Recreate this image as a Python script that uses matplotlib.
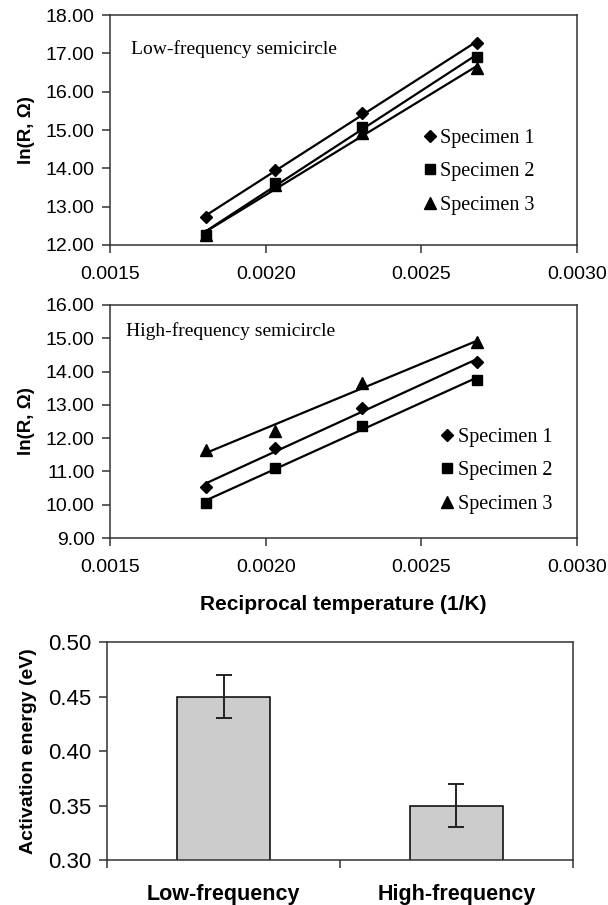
import matplotlib.pyplot as plt
import numpy as np
from matplotlib.ticker import FormatStrFormatter, FixedLocator

# reciprocal temperature, 1/K
inv_temp = [0.00181, 0.00203, 0.00231, 0.00268]

# ln(R) of the low-frequency semicircle
low_spec1 = [12.74, 13.95, 15.45, 17.28]
low_spec2 = [12.27, 13.63, 15.09, 16.91]
low_spec3 = [12.25, 13.56, 14.91, 16.61]

# ln(R) of the high-frequency semicircle
high_spec1 = [10.53, 11.69, 12.91, 14.29]
high_spec2 = [10.06, 11.11, 12.37, 13.75]
high_spec3 = [11.64, 12.22, 13.65, 14.89]

# activation energies
categories = ["Low-frequency", "High-frequency"]
energy = [0.45, 0.35]
energy_err = [0.02, 0.02]

labels = ["Specimen 1", "Specimen 2", "Specimen 3"]
markers = ["D", "s", "^"]
msizes = [6, 7.5, 8]

sans = "Liberation Sans"
serif = "Liberation Serif"


def style_axes(ax, size):
    for sp in ax.spines.values():
        sp.set_linewidth(1.1)
        sp.set_color("#333333")
    ax.tick_params(direction="out", length=6, width=1.1, color="#333333",
                   labelsize=size)
    ax.tick_params(axis="x", pad=9)
    ax.tick_params(axis="y", pad=5)
    for lab in ax.get_xticklabels() + ax.get_yticklabels():
        lab.set_fontfamily(sans)


def arrhenius_panel(ax, series, title, ylim, leg_anchor, title_pos):
    for vals, lab, mk, ms in zip(series, labels, markers, msizes):
        k, b = np.polyfit(inv_temp, vals, 1)
        xs = np.array([inv_temp[0], inv_temp[-1]])
        ax.plot(xs, k * xs + b, color="black", lw=1.6)
        ax.plot(inv_temp, vals, ls="none", marker=mk, ms=ms, color="black",
                label=lab)
    ax.set_xlim(0.0015, 0.0030)
    ax.set_ylim(*ylim)
    ax.set_xticks([0.0015, 0.0020, 0.0025, 0.0030])
    ax.set_yticks(np.arange(ylim[0], ylim[1] + 0.5, 1.0))
    ax.xaxis.set_major_formatter(FormatStrFormatter("%.4f"))
    ax.yaxis.set_major_formatter(FormatStrFormatter("%.2f"))
    ax.set_ylabel("ln(R, \u03a9)", fontfamily=sans, fontweight="bold",
                  fontsize=13.5, labelpad=8)
    ax.text(title_pos[0], title_pos[1], title, transform=ax.transAxes,
            fontfamily=serif, fontsize=14, va="center", ha="left")
    ax.legend(loc="center left", bbox_to_anchor=leg_anchor, frameon=False,
              prop={"family": serif, "size": 14.5}, handlelength=0.5,
              handletextpad=0.25, labelspacing=0.72, borderpad=0,
              borderaxespad=0)
    style_axes(ax, 14)


fig = plt.figure(figsize=(6.08, 9.05), dpi=100)

ax1 = fig.add_axes([0.1809, 0.7293, 0.768, 0.2541])
arrhenius_panel(ax1, [low_spec1, low_spec2, low_spec3],
                "Low-frequency semicircle", (12, 18), (0.675, 0.318),
                (0.045, 0.85))

ax2 = fig.add_axes([0.1809, 0.4055, 0.768, 0.2575])
arrhenius_panel(ax2, [high_spec1, high_spec2, high_spec3],
                "High-frequency semicircle", (9, 16), (0.712, 0.289),
                (0.035, 0.887))
ax2.set_xlabel("Reciprocal temperature (1/K)", fontfamily=sans,
               fontweight="bold", fontsize=15, labelpad=14)

ax3 = fig.add_axes([0.176, 0.0497, 0.7664, 0.2409])
pos = np.arange(len(categories))
ax3.bar(pos, energy, width=0.4, color="#cccccc", edgecolor="black",
        linewidth=1.1)
ax3.errorbar(pos, energy, yerr=energy_err, fmt="none", ecolor="#222222",
             elinewidth=1.4, capsize=5.5, capthick=1.4)
ax3.set_xlim(-0.5, 1.5)
ax3.set_ylim(0.30, 0.50)
ax3.set_yticks(np.arange(0.30, 0.501, 0.05))
ax3.yaxis.set_major_formatter(FormatStrFormatter("%.2f"))
ax3.xaxis.set_major_locator(FixedLocator([-0.5, 0.5, 1.5]))
ax3.xaxis.set_minor_locator(FixedLocator(pos))
ax3.set_xticklabels([], minor=False)
ax3.set_xticklabels(categories, minor=True, fontfamily=sans,
                    fontweight="bold", fontsize=15.5)
ax3.set_ylabel("Activation energy (eV)", fontfamily=sans, fontweight="bold",
               fontsize=14, labelpad=8)
style_axes(ax3, 16)
ax3.tick_params(axis="x", which="minor", length=0, pad=17, labelsize=15.5)

fig.savefig("out.png", dpi=100)
